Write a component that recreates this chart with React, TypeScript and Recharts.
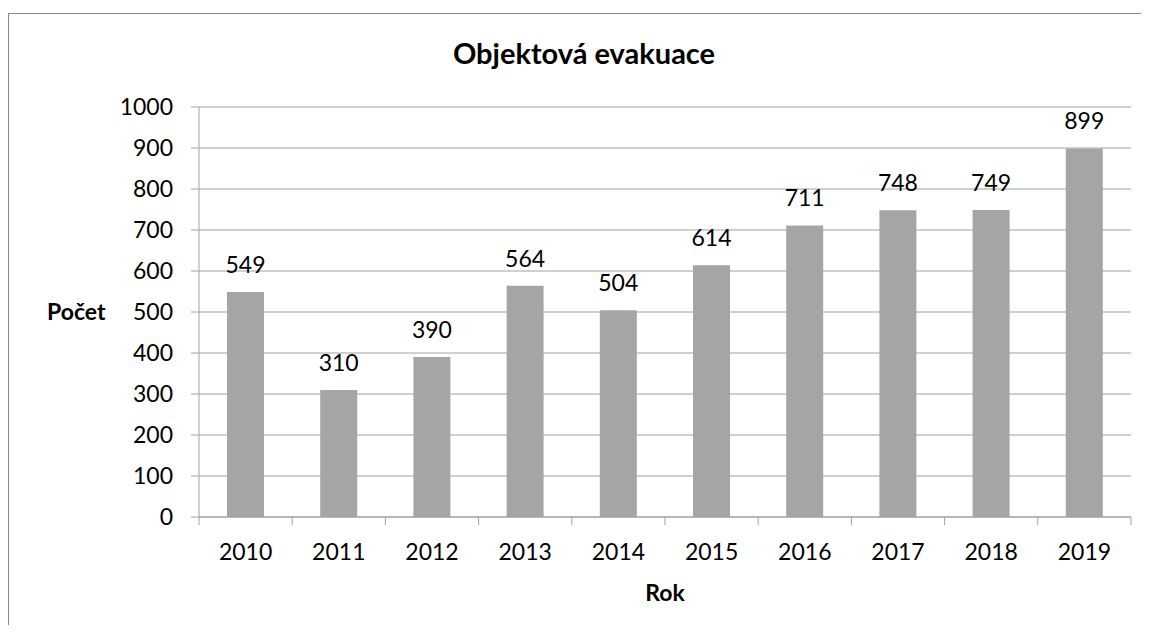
import { BarChart, Bar, XAxis, YAxis, CartesianGrid, LabelList } from 'recharts';

const years = ['2010', '2011', '2012', '2013', '2014', '2015', '2016', '2017', '2018', '2019'];
const counts = [549, 310, 390, 564, 504, 614, 711, 748, 749, 899];
const yTicks = [0, 100, 200, 300, 400, 500, 600, 700, 800, 900, 1000];

const data = years.map((rok, i) => ({ rok, pocet: counts[i] }));

const font = 'Lato, "Open Sans", sans-serif';
const gridColor = '#a0a0a0';
const frameColor = '#888';

// category label plus Excel-style tick marks on the category boundaries
const YearTick = (props: any) => {
    const { x, y, payload, index, width, visibleTicksCount } = props;
    const n = visibleTicksCount || years.length;
    const band = (width || 932) / n;
    const axisY = y - 27;
    const left = x - band / 2;
    const right = x + band / 2;
    return (
        <g>
            <line x1={left} y1={axisY} x2={left} y2={axisY + 8} stroke={gridColor} />
            {index === n - 1 && <line x1={right} y1={axisY} x2={right} y2={axisY + 8} stroke={gridColor} />}
            <text x={x} y={y} dy="0.71em" textAnchor="middle" fill="#000" fontSize={23} fontFamily={font}>
                {payload.value}
            </text>
        </g>
    );
};

export default function App() {
    return (
        <div style={{ position: 'relative', marginTop: 5, width: 1141, height: 612, fontFamily: font }}>
            {/* outer chart frame: only the left and top edges are in view */}
            <div style={{ position: 'absolute', left: 0, top: 0, width: 1141, height: 1, background: frameColor }} />
            <div style={{ position: 'absolute', left: 0, top: 0, width: 1, height: 612, background: frameColor }} />
            <div style={{ position: 'absolute', left: 276, top: 25, width: 600, textAlign: 'center', fontSize: 29, lineHeight: '29px', fontWeight: 700, color: '#000' }}>
                Objektová evakuace
            </div>
            <div style={{ position: 'absolute', left: 39, top: 287, fontSize: 23, lineHeight: '23px', fontWeight: 700, color: '#000' }}>
                Počet
            </div>
            <div style={{ position: 'absolute', left: 607, top: 568, width: 100, textAlign: 'center', fontSize: 23, lineHeight: '23px', fontWeight: 700, color: '#000' }}>
                Rok
            </div>
            <div style={{ position: 'absolute', left: 1, top: 1 }}>
                <BarChart width={1131} height={611} data={data} margin={{ top: 93, right: 9, left: 110, bottom: 68 }}>
                    <CartesianGrid vertical={false} stroke={gridColor} />
                    <XAxis
                        dataKey="rok"
                        height={40}
                        axisLine={{ stroke: gridColor }}
                        tickLine={false}
                        tickSize={0}
                        tickMargin={27}
                        interval={0}
                        tick={<YearTick />}
                    />
                    <YAxis
                        width={80}
                        domain={[0, 1000]}
                        ticks={yTicks}
                        interval={0}
                        axisLine={{ stroke: gridColor }}
                        tickLine={{ stroke: gridColor }}
                        tickSize={8}
                        tickMargin={18}
                        tick={{ fill: '#000', fontSize: 23, fontFamily: font }}
                    />
                    <Bar dataKey="pocet" fill="#a5a5a5" barSize={37} isAnimationActive={false}>
                        <LabelList dataKey="pocet" position="top" offset={19} fill="#000" fontSize={23} fontFamily={font} />
                    </Bar>
                </BarChart>
            </div>
        </div>
    );
}
